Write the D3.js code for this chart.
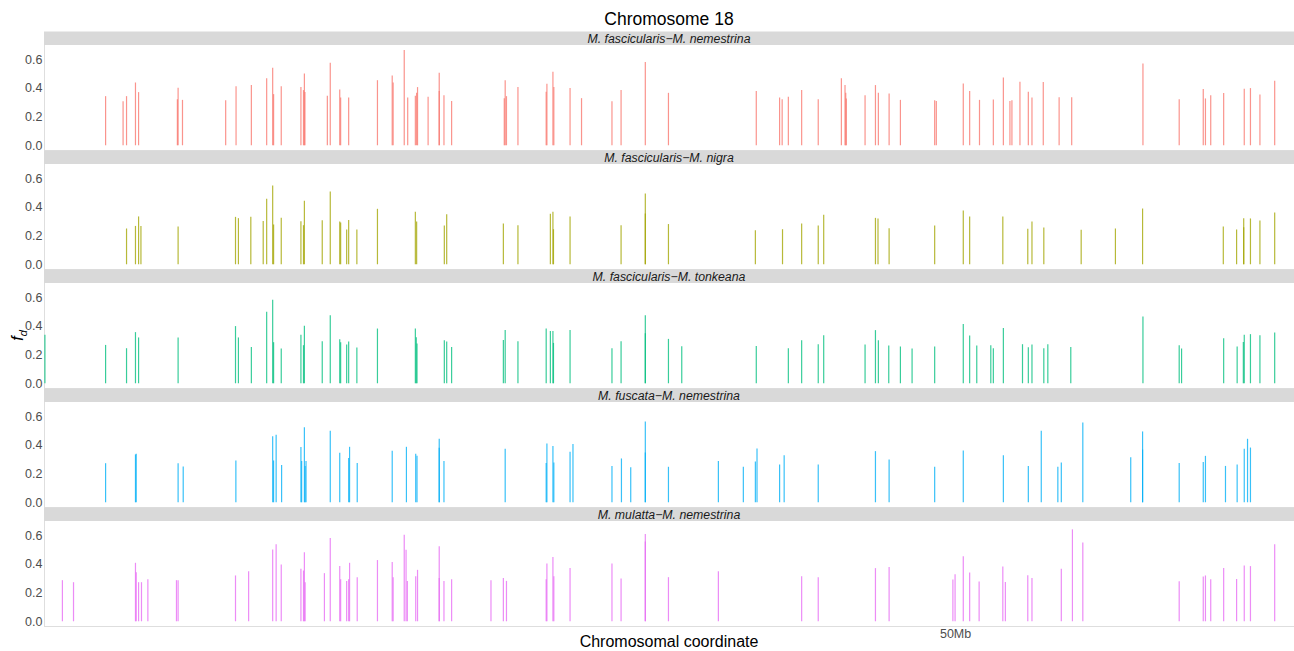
<!DOCTYPE html>
<html>
<head>
<meta charset="utf-8">
<script src="https://cdn.jsdelivr.net/npm/d3@7"></script>
<style>
  html, body { margin: 0; padding: 0; background: #fff; }
  svg { display: block; font-family: "Liberation Sans", Arial, Helvetica, sans-serif; }
</style>
</head>
<body>
<svg id="chart" width="1294" height="651"></svg>
<script>
// ---- data (positions in Mb, fd values) ----
const pairLabels = [
  "M. fascicularis\u2212M. nemestrina",
  "M. fascicularis\u2212M. nigra",
  "M. fascicularis\u2212M. tonkeana",
  "M. fuscata\u2212M. nemestrina",
  "M. mulatta\u2212M. nemestrina"
];
const yTicks = [0.0, 0.2, 0.4, 0.6];
const xTicks = [50];
const xTickLabels = ["50Mb"];

const posFascNem = [3.38,4.34,4.53,5.02,5.19,7.32,7.36,7.60,9.97,10.54,11.38,12.22,12.55,12.60,13.02,14.10,14.24,14.29,14.32,15.55,15.71,16.23,16.28,16.72,18.30,19.11,19.16,19.77,19.96,20.38,20.45,20.50,21.08,21.69,21.69,21.95,22.37,25.26,25.31,25.38,26.01,27.56,27.60,27.93,27.98,28.87,29.50,31.17,31.67,33.00,34.27,39.09,40.37,40.51,40.85,41.58,42.49,43.76,43.96,44.00,44.03,45.06,45.63,45.79,46.38,47.00,48.88,48.97,50.45,50.80,51.34,52.10,52.65,53.01,53.12,53.56,54.02,54.22,54.84,55.71,56.40,60.31,62.30,63.62,63.74,64.03,64.74,65.87,66.21,66.73,67.54];
const fdFascNem  = [0.342,0.307,0.342,0.437,0.37,0.32,0.40,0.316,0.314,0.41,0.42,0.467,0.54,0.356,0.41,0.405,0.384,0.50,0.37,0.344,0.574,0.388,0.333,0.333,0.453,0.486,0.437,0.663,0.333,0.344,0.365,0.405,0.337,0.505,0.377,0.349,0.309,0.328,0.453,0.342,0.405,0.372,0.428,0.512,0.405,0.398,0.328,0.307,0.384,0.579,0.365,0.377,0.333,0.321,0.337,0.384,0.321,0.467,0.419,0.365,0.326,0.349,0.419,0.365,0.360,0.316,0.314,0.309,0.430,0.377,0.316,0.319,0.472,0.309,0.314,0.442,0.372,0.333,0.44,0.335,0.335,0.570,0.321,0.391,0.326,0.349,0.363,0.393,0.398,0.353,0.449];

const posFascNig = [4.53,5.02,5.19,5.32,7.36,10.51,10.67,11.35,12.03,12.22,12.55,12.60,13.02,14.10,14.24,14.29,15.27,15.71,16.23,16.28,16.61,16.72,17.17,18.30,20.38,20.45,21.97,22.10,25.21,26.01,27.79,27.93,27.96,28.87,31.67,33.00,33.00,34.27,39.04,40.53,41.58,42.49,42.79,45.63,45.77,46.38,48.88,50.45,50.80,52.62,53.99,54.22,54.87,56.92,58.80,60.29,64.72,65.45,65.84,65.84,66.21,66.73,67.54];
const fdFascNig  = [0.249,0.267,0.333,0.267,0.263,0.330,0.321,0.330,0.302,0.456,0.549,0.277,0.323,0.30,0.272,0.442,0.307,0.507,0.298,0.291,0.242,0.309,0.242,0.386,0.365,0.298,0.27,0.349,0.284,0.272,0.351,0.365,0.244,0.333,0.272,0.493,0.353,0.28,0.237,0.244,0.284,0.27,0.344,0.323,0.319,0.251,0.27,0.374,0.333,0.333,0.247,0.298,0.256,0.24,0.249,0.388,0.263,0.242,0.321,0.258,0.319,0.305,0.36];

const posFascTon = [0.05,3.38,4.53,5.02,5.19,7.36,10.51,10.67,11.38,12.22,12.55,12.60,13.02,14.10,14.24,14.29,15.27,15.71,16.23,16.28,16.61,16.72,17.17,18.30,20.38,20.43,20.47,21.97,22.10,22.37,25.21,25.31,26.01,27.56,27.79,27.93,27.96,28.87,31.17,31.67,33.00,33.00,34.27,35.00,39.09,40.85,41.58,42.49,42.79,45.06,45.63,45.79,46.36,47.00,47.64,48.88,50.45,50.80,51.19,51.96,52.10,52.65,53.70,54.02,54.22,54.87,55.09,56.35,60.31,62.30,62.43,64.74,65.48,65.82,65.87,66.21,66.73,67.54];
const fdFascTon  = [0.337,0.267,0.244,0.356,0.319,0.319,0.398,0.319,0.253,0.498,0.581,0.286,0.242,0.337,0.265,0.40,0.293,0.474,0.307,0.286,0.27,0.291,0.249,0.381,0.381,0.321,0.277,0.30,0.291,0.253,0.302,0.37,0.293,0.381,0.363,0.363,0.281,0.37,0.244,0.293,0.474,0.349,0.309,0.258,0.26,0.244,0.30,0.272,0.335,0.27,0.37,0.30,0.263,0.256,0.242,0.256,0.412,0.333,0.263,0.265,0.244,0.384,0.272,0.251,0.27,0.244,0.272,0.253,0.465,0.265,0.242,0.314,0.256,0.288,0.337,0.342,0.335,0.353];

const posFuscNem = [3.38,5.02,5.06,7.36,7.64,10.53,12.55,12.60,12.74,13.04,14.10,14.14,14.29,14.33,14.38,15.71,16.23,16.72,16.77,17.19,19.11,19.89,20.40,20.47,21.69,21.69,21.95,25.31,27.56,27.60,27.93,27.98,28.87,29.03,31.17,31.69,32.20,33.00,33.00,34.27,37.01,38.38,39.04,39.13,40.37,40.62,42.49,45.63,46.38,48.88,50.45,52.65,54.02,54.73,55.64,55.83,57.01,59.64,60.29,60.29,62.30,63.62,63.74,64.84,65.48,65.87,66.05,66.21];
const fdFuscNem  = [0.272,0.333,0.337,0.272,0.249,0.291,0.46,0.291,0.47,0.26,0.384,0.288,0.523,0.253,0.288,0.498,0.344,0.309,0.386,0.274,0.358,0.386,0.337,0.323,0.442,0.379,0.288,0.372,0.274,0.409,0.391,0.277,0.351,0.405,0.253,0.305,0.244,0.563,0.347,0.247,0.288,0.247,0.284,0.374,0.263,0.328,0.263,0.356,0.298,0.247,0.36,0.328,0.253,0.498,0.247,0.277,0.556,0.314,0.493,0.367,0.274,0.281,0.323,0.253,0.263,0.372,0.442,0.381];

const posMulNem = [1.01,1.62,5.02,5.06,5.19,5.35,5.70,7.27,7.36,10.51,11.23,12.55,12.74,13.02,14.10,14.24,14.29,14.33,15.39,15.71,16.23,16.28,16.61,16.72,16.77,17.19,18.30,19.11,19.16,19.77,19.87,19.94,20.40,20.50,21.69,21.69,21.95,22.37,24.53,25.21,25.38,27.56,27.60,27.93,27.98,28.87,31.17,31.67,33.00,33.00,34.27,37.01,41.58,42.49,45.63,46.38,49.88,50.00,50.45,50.80,51.32,52.62,52.76,53.99,54.22,55.83,56.44,57.01,62.30,63.62,63.74,64.03,64.74,65.45,65.87,66.21,67.54];
const fdMulNem  = [0.286,0.272,0.407,0.342,0.272,0.272,0.293,0.286,0.286,0.319,0.349,0.50,0.537,0.395,0.365,0.353,0.481,0.272,0.335,0.579,0.384,0.293,0.281,0.293,0.407,0.307,0.426,0.412,0.307,0.602,0.498,0.281,0.314,0.358,0.523,0.302,0.281,0.293,0.286,0.302,0.281,0.293,0.402,0.447,0.314,0.37,0.402,0.298,0.607,0.556,0.307,0.349,0.314,0.307,0.37,0.377,0.291,0.328,0.453,0.34,0.277,0.381,0.274,0.321,0.302,0.365,0.64,0.549,0.279,0.312,0.319,0.293,0.37,0.295,0.388,0.384,0.537];

const seriesPos = [posFascNem, posFascNig, posFascTon, posFuscNem, posMulNem];
const seriesFd  = [fdFascNem, fdFascNig, fdFascTon, fdFuscNem, fdMulNem];

// ---- styles / layout ----
const colors = ["#F8766D", "#A3A500", "#00BF7D", "#00B0F6", "#E76BF3"];
const left = 44, right = 1294;
const firstStripTop = 31.5, facetPitch = 119, stripH = 13.5, panelH = 105;

const svg = d3.select("#chart");

const x = d3.scaleLinear().domain([0, 68.6]).range([left, right]);
const y0 = d3.scaleLinear().domain([-0.033, 0.698]).range([panelH, 0]);

// title
svg.append("text")
  .attr("x", (left + right) / 2).attr("y", 25)
  .attr("text-anchor", "middle")
  .attr("font-size", 17.5).attr("fill", "#000")
  .text("Chromosome 18");

const defs = svg.append("defs");

pairLabels.forEach((lab, i) => {
  const stripTop = firstStripTop + facetPitch * i;
  const panelTop = stripTop + stripH;
  const g = svg.append("g").attr("transform", `translate(0,${panelTop})`);

  // strip
  svg.append("rect")
    .attr("x", left).attr("y", stripTop)
    .attr("width", right - left).attr("height", stripH)
    .attr("fill", "#D9D9D9");
  svg.append("text")
    .attr("x", (left + right) / 2).attr("y", stripTop + stripH / 2 + 4.3)
    .attr("text-anchor", "middle")
    .attr("font-size", 12.3).attr("font-style", "italic").attr("fill", "#1A1A1A")
    .text(lab);

  // clip
  defs.append("clipPath").attr("id", "clip" + i)
    .append("rect").attr("x", left).attr("y", 0).attr("width", right - left).attr("height", panelH);

  // axis lines (light grey, left and bottom)
  g.append("line")
    .attr("x1", left).attr("x2", right)
    .attr("y1", panelH + 0.5).attr("y2", panelH + 0.5)
    .attr("stroke", "#DEDEDE").attr("stroke-width", 1);
  g.append("line")
    .attr("x1", left + 0.5).attr("x2", left + 0.5)
    .attr("y1", 0).attr("y2", panelH + 1)
    .attr("stroke", "#DEDEDE").attr("stroke-width", 1);

  // y axis
  const yAxis = d3.axisLeft(y0).tickValues(yTicks).tickFormat(d3.format(".1f")).tickSize(0).tickPadding(1.5);
  const ya = g.append("g").attr("transform", `translate(${left},0)`).call(yAxis);
  ya.select(".domain").remove();
  ya.selectAll("text").attr("font-size", 12.5).attr("fill", "#4D4D4D")
    .attr("font-family", "Liberation Sans, Arial, sans-serif");

  // segments
  const data = seriesPos[i].map((p, k) => ({ pos: p, fd: seriesFd[i][k] }));
  g.append("g").attr("clip-path", `url(#clip${i})`)
    .selectAll("line").data(data).join("line")
    .attr("x1", d => x(d.pos)).attr("x2", d => x(d.pos))
    .attr("y1", y0(0)).attr("y2", d => y0(d.fd))
    .attr("stroke", colors[i]).attr("stroke-width", 1.2)
    .attr("stroke-opacity", 0.78);

  // x axis on last panel only
  if (i === pairLabels.length - 1) {
    const xAxis = d3.axisBottom(x).tickValues(xTicks).tickFormat((d, k) => xTickLabels[k]).tickSize(0).tickPadding(3);
    const xa = g.append("g").attr("transform", `translate(0,${panelH})`).call(xAxis);
    xa.select(".domain").remove();
    xa.selectAll("text").attr("font-size", 12.5).attr("fill", "#4D4D4D")
      .attr("font-family", "Liberation Sans, Arial, sans-serif");
  }
});

// axis titles
svg.append("text")
  .attr("x", (left + right) / 2).attr("y", 651 - 4)
  .attr("text-anchor", "middle").attr("font-size", 16).attr("fill", "#000")
  .text("Chromosomal coordinate");

const yt = svg.append("text")
  .attr("transform", `translate(23,${(firstStripTop + stripH + firstStripTop + facetPitch * 4 + stripH + panelH) / 2}) rotate(-90)`)
  .attr("text-anchor", "middle").attr("font-size", 16).attr("fill", "#000");
yt.append("tspan").attr("font-style", "italic").text("f");
yt.append("tspan").attr("font-style", "italic").attr("font-size", 11).attr("dy", 4).text("d");
</script>
</body>
</html>
